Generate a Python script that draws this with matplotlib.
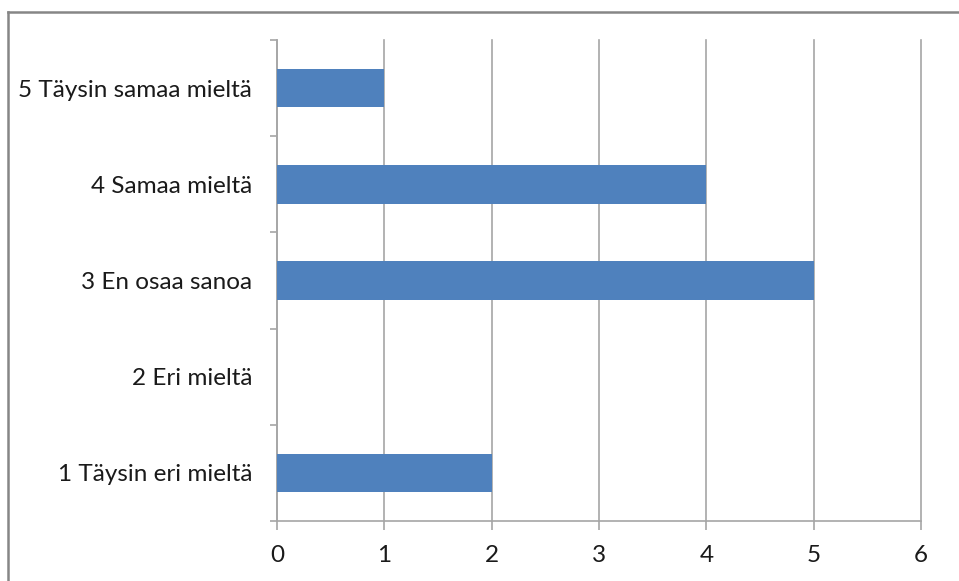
import matplotlib
matplotlib.use('Agg')
import matplotlib.pyplot as plt
from matplotlib.lines import Line2D
import numpy as np

categories = ['1 Täysin eri mieltä', '2 Eri mieltä', '3 En osaa sanoa',
              '4 Samaa mieltä', '5 Täysin samaa mieltä']
counts = [2, 0, 5, 4, 1]
xticks = [0, 1, 2, 3, 4, 5, 6]

plt.rcParams['font.family'] = ['Lato', 'DejaVu Sans']

fig = plt.figure(figsize=(9.59, 5.81), dpi=100)
ax = fig.add_axes([277/959, 1-521/581, 644/959, 481/581])

grid_c = '#a6a6a6'
pos = np.arange(len(categories))
ax.barh(pos, counts, height=0.4, color='#4f81bd', zorder=3)

ax.set_xlim(0, 6)
ax.set_ylim(-0.5, len(categories)-0.5)
ax.set_xticks(xticks)
ax.set_xticklabels([str(t) for t in xticks], fontsize=17.5, color='#1a1a1a')
ax.set_yticks(pos)
ax.set_yticklabels(categories, fontsize=17.5, color='#1a1a1a')
ax.set_yticks(np.arange(len(categories)+1)-0.5, minor=True)

ax.tick_params(axis='y', which='major', length=0, pad=18)
ax.tick_params(axis='y', which='minor', length=5, color=grid_c, width=1.2)
ax.tick_params(axis='x', length=6.5, color=grid_c, width=1.2, pad=11)

for s in ['top', 'right']:
    ax.spines[s].set_visible(False)
for s in ['left', 'bottom']:
    ax.spines[s].set_color(grid_c)
    ax.spines[s].set_linewidth(1.2)

ax.grid(axis='x', color=grid_c, linewidth=1.2, zorder=0)
for gl in ax.get_xgridlines():
    gl.set_clip_on(False)

# outer chart frame
fig.add_artist(Line2D([8/959, 1], [1-12/581, 1-12/581], color='#868686', linewidth=1.8))
fig.add_artist(Line2D([8/959, 8/959], [0, 1-12/581], color='#868686', linewidth=1.8))

fig.savefig('out.png', dpi=100)
